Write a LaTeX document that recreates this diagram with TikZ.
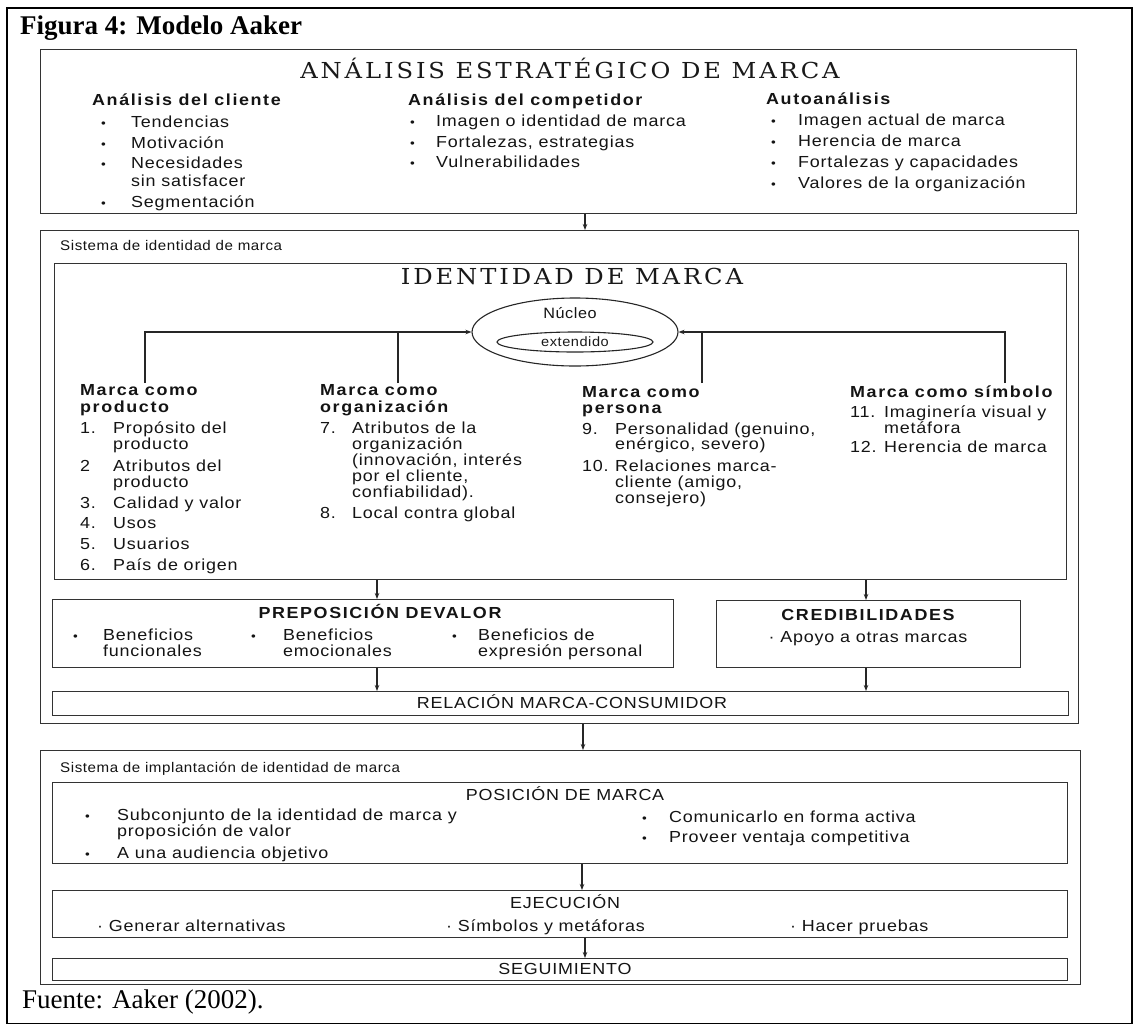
\documentclass[tikz,border=0pt]{standalone}
\usepackage{fontspec}
\setmainfont{Liberation Serif}
\newfontfamily\sfr[LetterSpace=5,FakeStretch=1.12]{Liberation Sans}
\newfontfamily\sfbb[LetterSpace=10,FakeStretch=1.12]{Liberation Sans}
\newfontfamily\sfl[LetterSpace=4,FakeStretch=1.08]{Liberation Sans}
\newfontfamily\cent[LetterSpace=12]{DejaVu Serif}
\usetikzlibrary{shapes.geometric,arrows.meta}
\newcommand\bt{\sfr\fontsize{16}{18}\selectfont}
\newcommand\bth{\sfbb\bfseries\fontsize{16}{18}\selectfont}
\newcommand\bsm{\sfl\fontsize{14}{16}\selectfont}
\newcommand\bu{{\fontsize{12}{12}\selectfont\textbullet}}
\newcommand\wide[1]{\scalebox{1.1}[1]{#1}}
\tikzset{
  frm/.style={draw=black, line width=1.8pt, inner sep=0, anchor=north west},
  bx/.style={draw=black!80, line width=1.3pt, inner sep=0, anchor=north west},
  con/.style={draw=black!85, line width=1.1pt},
  arr/.style={con, -{Stealth[length=6pt,width=4.5pt]}},
  t/.style={inner sep=0, anchor=base west, font=\bt, text=black!92},
  tb/.style={t, font=\bth},
  tc/.style={t, anchor=base},
  tcb/.style={tb, anchor=base},
  ttl/.style={inner sep=0, anchor=base, font=\cent\fontsize{22}{24}\selectfont, text=black!90},
  capt/.style={inner sep=0, anchor=base west, font=\fontsize{27}{30}\selectfont},
  ell/.style={draw=black!85, line width=1.1pt, ellipse, inner sep=0}
}
\begin{document}
\begin{tikzpicture}[x=1pt,y=-1pt]
\useasboundingbox (0,0) rectangle (1134,1023);
\fill[white] (0,0) rectangle (1134,1023);
% outer frame and captions
\node[frm, minimum width=1125, minimum height=1016] (frame) at (6,7) {};
\node[capt, font=\bfseries\fontsize{27}{30}\selectfont] (fig) at (20,34) {Figura 4: Modelo Aaker};
\node[capt] (src) at (22,1008) {Fuente: Aaker (2002).};

% ---------- strategic analysis ----------
\node[bx, minimum width=1036, minimum height=164] (top) at (40,49) {};
\node[ttl] (ttop) at (570,78) {\wide{ANÁLISIS ESTRATÉGICO DE MARCA}};
\node[tb] (h1) at (92,105) {Análisis del cliente};
\node[t] (b11) at (101,127) {\bu}; \node[t] (c11) at (131,127) {Tendencias};
\node[t] (b12) at (101,148) {\bu}; \node[t] (c12) at (131,148) {Motivación};
\node[t] (b13) at (101,168) {\bu}; \node[t] (c13) at (131,168) {Necesidades};
\node[t] (c13b) at (131,186) {sin satisfacer};
\node[t] (b14) at (101,207) {\bu}; \node[t] (c14) at (131,207) {Segmentación};
\node[tb] (h2) at (408,105) {Análisis del competidor};
\node[t] (b21) at (410,126) {\bu}; \node[t] (c21) at (436,126) {Imagen o identidad de marca};
\node[t] (b22) at (410,147) {\bu}; \node[t] (c22) at (436,147) {Fortalezas, estrategias};
\node[t] (b23) at (410,167) {\bu}; \node[t] (c23) at (436,167) {Vulnerabilidades};
\node[tb] (h3) at (766,104) {Autoanálisis};
\node[t] (b31) at (771,125) {\bu}; \node[t] (c31) at (798,125) {Imagen actual de marca};
\node[t] (b32) at (771,146) {\bu}; \node[t] (c32) at (798,146) {Herencia de marca};
\node[t] (b33) at (771,167) {\bu}; \node[t] (c33) at (798,167) {Fortalezas y capacidades};
\node[t] (b34) at (771,188) {\bu}; \node[t] (c34) at (798,188) {Valores de la organización};

% ---------- identity system ----------
\node[bx, minimum width=1038, minimum height=493] (sis) at (40,230) {};
\node[t, font=\bsm] (lsis) at (60,250) {Sistema de identidad de marca};
\node[bx, minimum width=1012, minimum height=316] (idb) at (54,263) {};
\node[ttl] (tid) at (572,284) {\wide{IDENTIDAD DE MARCA}};
\node[ell, minimum width=206, minimum height=68] (core) at (575,332) {};
\node[tc, font=\sfl\fontsize{15}{17}\selectfont] (nuc) at (570,318) {Núcleo};
\node[ell, minimum width=156, minimum height=20, font=\sfl\fontsize{13.5}{14}\selectfont, text=black!90] (ext) at (575,342) {extendido};

% producto
\node[tb] (p0a) at (80,395) {Marca como};
\node[tb] (p0b) at (80,412) {producto};
\node[t] (pn1) at (80,433) {1.}; \node[t] (p1a) at (113,433) {Propósito del}; \node[t] (p1b) at (113,449) {producto};
\node[t] (pn2) at (80,471) {2}; \node[t] (p2a) at (113,471) {Atributos del}; \node[t] (p2b) at (113,487) {producto};
\node[t] (pn3) at (80,508) {3.}; \node[t] (p3) at (113,508) {Calidad y valor};
\node[t] (pn4) at (80,528) {4.}; \node[t] (p4) at (113,528) {Usos};
\node[t] (pn5) at (80,549) {5.}; \node[t] (p5) at (113,549) {Usuarios};
\node[t] (pn6) at (80,570) {6.}; \node[t] (p6) at (113,570) {País de origen};
% organizacion
\node[tb] (o0a) at (320,395) {Marca como};
\node[tb] (o0b) at (320,412) {organización};
\node[t] (on7) at (320,433) {7.}; \node[t] (o7a) at (352,433) {Atributos de la};
\node[t] (o7b) at (352,449) {organización};
\node[t] (o7c) at (352,465) {(innovación, interés};
\node[t] (o7d) at (352,481) {por el cliente,};
\node[t] (o7e) at (352,497) {confiabilidad).};
\node[t] (on8) at (320,518) {8.}; \node[t] (o8) at (352,518) {Local contra global};
% persona
\node[tb] (e0a) at (582,397) {Marca como};
\node[tb] (e0b) at (582,413) {persona};
\node[t] (en9) at (582,434) {9.}; \node[t] (e9a) at (615,434) {Personalidad (genuino,};
\node[t] (e9b) at (615,449) {enérgico, severo)};
\node[t] (en10) at (582,471) {10.}; \node[t] (e10a) at (615,471) {Relaciones marca-};
\node[t] (e10b) at (615,487) {cliente (amigo,};
\node[t] (e10c) at (615,503) {consejero)};
% simbolo
\node[tb] (s0) at (850,397) {Marca como símbolo};
\node[t] (sn11) at (850,417) {11.}; \node[t] (s11a) at (884,417) {Imaginería visual y};
\node[t] (s11b) at (884,433) {metáfora};
\node[t] (sn12) at (850,452) {12.}; \node[t] (s12) at (884,452) {Herencia de marca};

% connectors to the core
\coordinate (vp) at (145,383);
\coordinate (vo) at (398,383);
\coordinate (ve) at (702,383);
\coordinate (vs) at (1005,383);
\draw[arr] (vp) |- (core.west);
\draw[con] (vo) -- (vo |- core.west);
\draw[arr] (vs) |- (core.east);
\draw[con] (ve) -- (ve |- core.east);

% value proposition and credibility
\node[bx, minimum width=621, minimum height=68] (prep) at (52,599) {};
\node[tcb] (tprep) at (380,618) {PREPOSICIÓN DEVALOR};
\node[t] (q1b) at (73,640) {\bu}; \node[t] (q1a) at (103,640) {Beneficios}; \node[t] (q1c) at (103,656) {funcionales};
\node[t] (q2b) at (251,640) {\bu}; \node[t] (q2a) at (283,640) {Beneficios}; \node[t] (q2c) at (283,656) {emocionales};
\node[t] (q3b) at (452,640) {\bu}; \node[t] (q3a) at (478,640) {Beneficios de}; \node[t] (q3c) at (478,656) {expresión personal};
\node[bx, minimum width=304, minimum height=67] (cred) at (716,600) {};
\node[tcb] (tcred) at (868,620) {CREDIBILIDADES};
\node[tc] (cr1) at (868,642) {· Apoyo a otras marcas};
\node[bx, minimum width=1016, minimum height=24] (rel) at (52,691) {};
\node[tc] (trel) at (572,708) {RELACIÓN MARCA-CONSUMIDOR};

\coordinate (x1) at (585,0);
\coordinate (x2) at (377,0);
\coordinate (x3) at (866,0);
\draw[arr] (top.south -| x1) -- (sis.north -| x1);
\draw[arr] (idb.south -| x2) -- (prep.north -| x2);
\draw[arr] (idb.south -| x3) -- (cred.north -| x3);
\draw[arr] (prep.south -| x2) -- (rel.north -| x2);
\draw[arr] (cred.south -| x3) -- (rel.north -| x3);

% ---------- implementation system ----------
\node[bx, minimum width=1040, minimum height=234] (imp) at (40,750) {};
\node[t, font=\bsm] (limp) at (60,772) {Sistema de implantación de identidad de marca};
\coordinate (x5) at (583,0);
\draw[arr] (sis.south -| x5) -- (imp.north -| x5);
\node[bx, minimum width=1015, minimum height=81] (pos) at (52,782) {};
\node[tc] (tpos) at (565,800) {POSICIÓN DE MARCA};
\node[t] (r1b) at (85,820) {\bu}; \node[t] (r1a) at (117,820) {Subconjunto de la identidad de marca y};
\node[t] (r1c) at (117,836) {proposición de valor};
\node[t] (r2b) at (85,858) {\bu}; \node[t] (r2a) at (117,858) {A una audiencia objetivo};
\node[t] (r3b) at (642,822) {\bu}; \node[t] (r3a) at (669,822) {Comunicarlo en forma activa};
\node[t] (r4b) at (642,842) {\bu}; \node[t] (r4a) at (669,842) {Proveer ventaja competitiva};
\node[bx, minimum width=1015, minimum height=47] (eje) at (52,890) {};
\node[tc] (teje) at (565,908) {EJECUCIÓN};
\node[t] (j1) at (97,931) {· Generar alternativas};
\node[t] (j2) at (446,931) {· Símbolos y metáforas};
\node[t] (j3) at (790,931) {· Hacer pruebas};
\node[bx, minimum width=1015, minimum height=22] (seg) at (52,958) {};
\node[tc] (tseg) at (565,974) {SEGUIMIENTO};
\coordinate (x6) at (582,0);
\draw[arr] (pos.south -| x6) -- (eje.north -| x6);
\draw[arr] (eje.south -| x1) -- (seg.north -| x1);
\end{tikzpicture}
\end{document}
